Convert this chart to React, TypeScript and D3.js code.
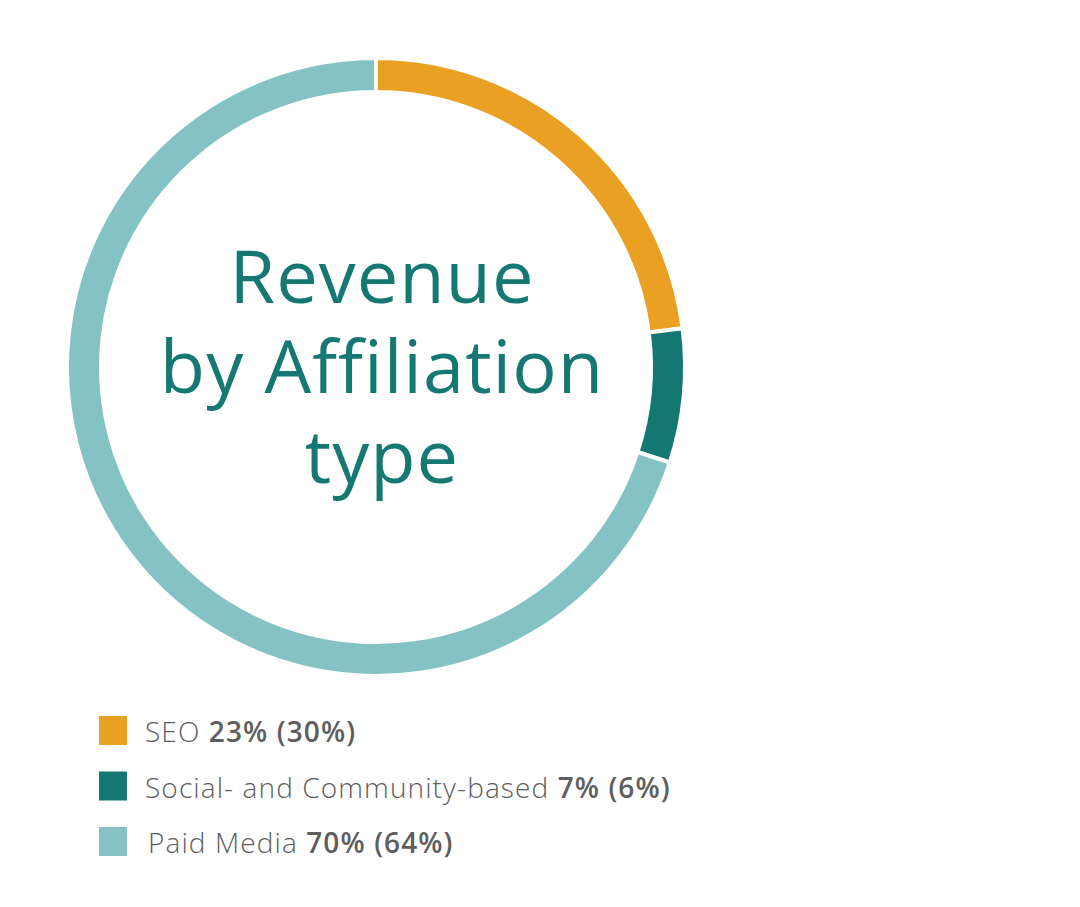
import React from "react";
import * as d3 from "d3";

const categories = ["SEO", "Social- and Community-based", "Paid Media"];
const values = [23, 7, 70];
const previous = [30, 6, 64];
const colors = ["#E9A023", "#147771", "#84C2C4"];
const titleLines = ["Revenue", "by Affiliation", "type"];

export default function App() {
  const W = 1080, H = 907;
  const cx = 376, cy = 367, rOuter = 309, rInner = 275;
  const pie = d3.pie<number>().sort(null).value((d) => d);
  const arcs = pie(values);
  const arc = d3.arc<d3.PieArcDatum<number>>().innerRadius(rInner).outerRadius(rOuter);
  const font = "'Open Sans', Lato, sans-serif";
  return (
    <svg width={W} height={H} style={{ position: "absolute", left: 0, top: 0, background: "#fff" }}>
      <g transform={`translate(${cx},${cy})`}>
        {arcs.map((a, i) => (
          <path key={i} d={arc(a) || ""} fill={colors[i]} stroke="#fff" strokeWidth={4} />
        ))}
        <text textAnchor="middle" fontFamily={font} fontSize={74} fill="#167872" letterSpacing={1}>
          {titleLines.map((t, i) => (
            <tspan key={t} x={6} y={-64 + i * 90}>
              {t}
            </tspan>
          ))}
        </text>
      </g>
      {categories.map((c, i) => (
        <g key={c} transform={`translate(99,${716 + i * 55.5})`}>
          <rect width={28} height={29} fill={colors[i]} />
          <text x={i === 2 ? 49 : 46} y={26} fontFamily={font} fontSize={28} fill="#5e5e5e" fontWeight={300} letterSpacing={1.1}>
            {c + " "}
            <tspan fontWeight={600}>{`${values[i]}% (${previous[i]}%)`}</tspan>
          </text>
        </g>
      ))}
    </svg>
  );
}
